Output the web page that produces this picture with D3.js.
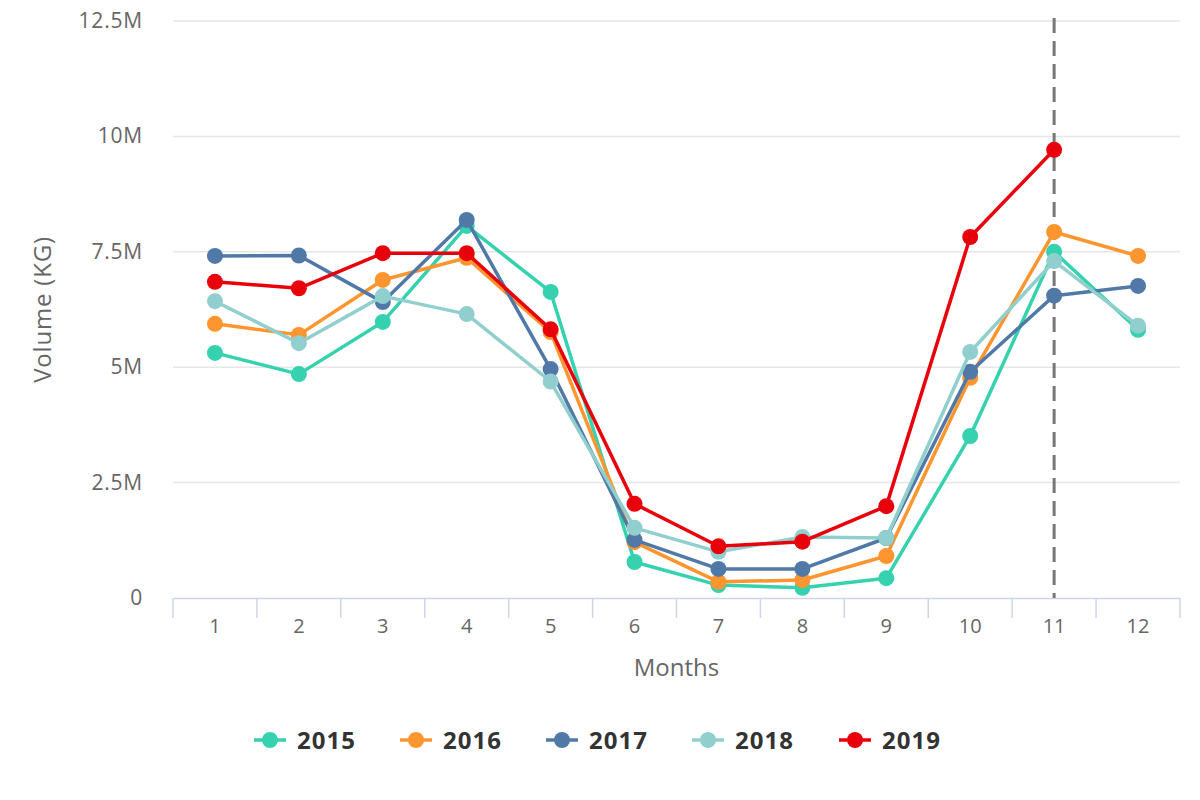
<!DOCTYPE html>
<html><head><meta charset="utf-8">
<script src="https://cdn.jsdelivr.net/npm/d3@7"></script>
<style>body{margin:0;background:#fff}svg{display:block}</style>
</head><body>
<svg id="c" width="1200" height="800"></svg>
<script>
const months = [1,2,3,4,5,6,7,8,9,10,11,12];
const years = ["2015","2016","2017","2018","2019"];
const colors = ["#36d1ae","#fe952e","#5079a8","#91cfcf","#e8000b"];
const v2015 = [5.31,4.85,5.98,8.06,6.63,0.78,0.28,0.22,0.43,3.51,7.50,5.81];
const v2016 = [5.94,5.70,6.89,7.37,5.76,1.21,0.35,0.39,0.91,4.77,7.93,7.41];
const v2017 = [7.41,7.42,6.41,8.19,4.96,1.26,0.63,0.63,1.30,4.90,6.55,6.76];
const v2018 = [6.43,5.52,6.54,6.15,4.69,1.52,1.00,1.32,1.30,5.33,7.30,5.90];
const v2019 = [6.85,6.71,7.47,7.47,5.82,2.04,1.12,1.22,1.99,7.82,9.71,null];
const yTicks = [0,2.5,5,7.5,10,12.5];
const yTickLabels = ["0","2.5M","5M","7.5M","10M","12.5M"];
const plotLineMonth = 11;
const series = [v2015,v2016,v2017,v2018,v2019];

const svg = d3.select("#c");
const L=173,R=1180,T=21,B=598;
const x = d3.scaleBand().domain(months).range([L,R]);
const y = d3.scaleLinear().domain([0,12.5]).range([B,T]);
const font = "'Open Sans','Noto Sans', sans-serif";

// grid
svg.append("g").selectAll("line").data(yTicks.slice(1)).join("line")
  .attr("x1",L).attr("x2",R).attr("y1",d=>y(d)).attr("y2",d=>y(d))
  .attr("stroke","#e6e6e6").attr("stroke-width",1.5);
// y labels
svg.append("g").selectAll("text").data(yTicks).join("text")
  .attr("x",143).attr("y",d=>y(d)+7).attr("text-anchor","end")
  .attr("font-family",font).attr("font-size",21).attr("letter-spacing",0.8).attr("fill","#666")
  .text((d,i)=>yTickLabels[i]);
svg.append("text").attr("transform",`translate(51,${(T+B)/2}) rotate(-90)`)
  .attr("text-anchor","middle").attr("font-family",font).attr("font-size",24)
  .attr("letter-spacing",0.8).attr("fill","#666").text("Volume (KG)");

// x axis
const xa = svg.append("g").attr("transform",`translate(0,${B})`)
  .call(d3.axisBottom(x).tickSize(0).tickPadding(21));
xa.select(".domain").attr("stroke","#ccd6eb").attr("stroke-width",1.5);
xa.selectAll("text").attr("font-family",font)
  .attr("font-size",20).attr("fill","#666");
const bounds = months.map(m=>x(m)).concat([x(12)+x.bandwidth()]);
svg.append("g").selectAll("line").data(bounds).join("line")
  .attr("x1",d=>d).attr("x2",d=>d).attr("y1",B).attr("y2",B+20)
  .attr("stroke","#ccd6eb").attr("stroke-width",1.5);
svg.append("text").attr("x",(L+R)/2).attr("y",676).attr("text-anchor","middle")
  .attr("font-family",font).attr("font-size",24)
  .attr("fill","#666").text("Months");

// plot line
const px = x(plotLineMonth)+x.bandwidth()/2;
svg.append("line").attr("x1",px).attr("x2",px).attr("y1",T-3).attr("y2",B)
  .attr("stroke","#777").attr("stroke-width",3).attr("stroke-dasharray","15,8");

const line = d3.line().defined(d=>d.v!=null).x(d=>x(d.m)+x.bandwidth()/2).y(d=>y(d.v));
series.forEach((vals,i)=>{
  const data = vals.map((v,j)=>({m:months[j],v}));
  const g = svg.append("g");
  g.append("path").datum(data).attr("d",line).attr("fill","none")
    .attr("stroke",colors[i]).attr("stroke-width",3.5).attr("stroke-linejoin","round");
  g.selectAll("circle").data(data.filter(d=>d.v!=null)).join("circle")
    .attr("cx",d=>x(d.m)+x.bandwidth()/2).attr("cy",d=>y(d.v)).attr("r",8)
    .attr("fill",colors[i]);
});

// legend
const lx = [254,400,546,692,839];
const lg = svg.append("g");
years.forEach((yr,i)=>{
  const g = lg.append("g").attr("transform",`translate(${lx[i]},740)`);
  g.append("line").attr("x1",0).attr("x2",32).attr("stroke",colors[i]).attr("stroke-width",3.5);
  g.append("circle").attr("cx",16).attr("r",8).attr("fill",colors[i]);
  g.append("text").attr("x",43).attr("y",9).attr("font-family",font)
    .attr("font-weight","bold").attr("font-size",24).attr("letter-spacing",1)
    .attr("fill","#333").text(yr);
});
</script>
</body></html>
